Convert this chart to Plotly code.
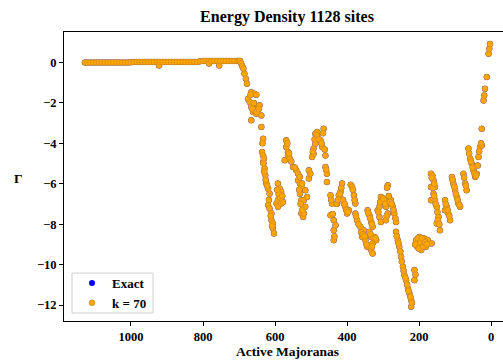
import plotly.graph_objects as go

# ---- data ----
flat_sites = [1128, 1120, 1112, 1104, 1096, 1088, 1080, 1072, 1064, 1056, 1048, 1040, 1032, 1024,
              1016, 1008, 1000, 992, 984, 976, 968, 960, 952, 944, 936, 928, 922, 920, 912, 904,
              896, 888, 880, 872, 864, 856, 848, 840, 832, 824, 816, 808, 800, 792, 784, 783,
              776, 768, 760, 755, 752, 744, 736, 728, 720, 712, 704, 700]
flat_energy = [0.0, 0.0, 0.0, 0.0, 0.0, 0.0, 0.0, 0.0, 0.0, 0.0, 0.0, 0.0, 0.0, 0.0,
               0.0, 0.0, 0.01, 0.03, 0.03, 0.03, 0.03, 0.03, 0.03, 0.03, 0.03, 0.03, -0.15, 0.03, 0.03, 0.03,
               0.03, 0.03, 0.03, 0.03, 0.03, 0.03, 0.03, 0.03, 0.03, 0.03, 0.03, 0.06, 0.08, 0.08, 0.08, -0.05,
               0.08, 0.08, 0.08, -0.15, 0.08, 0.08, 0.08, 0.08, 0.08, 0.08, 0.08, 0.08]

drop_sites = [697, 694, 691, 688, 685, 681, 678, 675, 670, 666, 666, 666, 661, 657, 657, 652, 652,
              647, 643, 638, 638, 636, 633, 633, 633, 631, 629, 627, 624, 619, 619, 615, 615, 610,
              610, 606, 606, 603, 596, 592, 592, 592, 587, 587, 583, 583, 578, 573, 569, 569, 564,
              564, 559, 550, 541, 536, 536, 531, 531, 531, 527, 527, 527, 525, 522, 522, 520, 520,
              516, 516, 511, 506, 506, 502, 497, 493, 493, 488, 488, 483, 483, 474, 469, 465, 460,
              460, 456, 456, 446, 446, 442, 437, 437, 437, 432, 428, 423, 418, 418, 414, 409, 405,
              400, 395, 390, 386, 381, 377, 377, 372, 363, 358, 354, 349, 344]
drop_energy = [0.08, -0.05, -0.18, -0.3, -0.55, -0.8, -1.05, -1.8, -1.96, -1.47, -2.2, -2.86, -2.45,
               -1.55, -2.37, -1.6, -2.53, -2.2, -2.12, -2.62, -3.19, -4.43, -3.77, -4.6, -4.92, -4.76,
               -5.25, -5.58, -5.99, -6.24, -7.06, -6.49, -7.23, -7.47, -7.8, -7.97, -8.21, -8.46, -6.98,
               -5.99, -6.81, -7.14, -6.24, -6.57, -6.4, -6.98, -6.9, -4.84, -3.85, -4.18, -4.43, -4.6,
               -4.76, -5.17, -5.33, -5.5, -5.83, -5.66, -5.99, -6.49, -6.16, -6.81, -7.47, -5.99, -7.14,
               -7.64, -6.81, -7.47, -6.32, -7.14, -6.65, -5.33, -5.74, -5.5, -4.67, -4.51, -4.26, -4.02,
               -3.52, -3.77, -3.44, -3.85, -4.18, -3.28, -4.6, -5.17, -5.5, -5.91, -6.57, -7.56, -6.98,
               -7.8, -8.3, -8.79, -8.05, -6.98, -6.57, -6.4, -6.73, -5.99, -6.98, -7.14, -7.47, -7.31,
               -6.05, -6.16, -6.57, -6.98, -7.47, -7.8, -8.13, -8.63, -8.3, -8.79, -9.12]

tail_sites = [343, 338, 338, 333, 333, 333, 329, 329, 329, 324, 319, 315, 310, 310, 306, 306, 296,
              292, 292, 287, 287, 278, 273, 269, 264, 264, 259, 255, 250, 245, 241, 236, 231, 227,
              222, 222, 213, 213, 208, 205, 199, 194, 190, 185, 181, 176, 167, 167, 167, 165, 163,
              160, 160, 156, 156, 151, 151, 146, 142, 128, 128, 123, 119, 114, 109, 105, 100, 95, 91,
              86, 77, 72, 68, 63, 58, 54, 49, 44, 40, 35, 31, 26, 26, 21, 19, 17, 12, 7, 5, 3]
tail_energy = [-7.31, -7.56, -8.38, -7.89, -8.63, -9.28, -8.13, -8.95, -9.45, -8.63, -8.79, -7.31,
               -7.14, -7.64, -6.65, -7.89, -6.81, -7.14, -7.8, -6.07, -7.47, -6.81, -7.14, -7.47, -7.89,
               -8.38, -8.79, -9.12, -9.61, -10.1, -10.52, -10.77, -11.18, -11.42, -11.75, -12.08, -10.27,
               -10.77, -8.79, -9.12, -8.63, -9.28, -8.95, -8.71, -9.12, -8.79, -5.5, -6.16, -6.81, -8.95,
               -5.6, -5.83, -6.49, -6.16, -6.81, -7.14, -7.97, -7.64, -8.3, -6.81, -7.31, -7.14, -7.47,
               -7.8, -5.66, -5.99, -6.32, -6.65, -6.98, -7.14, -5.5, -5.99, -6.32, -4.26, -4.76, -5.0,
               -5.33, -5.66, -5.5, -4.67, -4.18, -4.1, -3.28, -1.88, -1.63, -1.3, -0.72, 0.43, 0.68, 0.92]

fill_sites = [663, 659, 650, 645, 668, 635, 632, 630, 626, 622, 617, 612, 608, 590, 585, 580, 594,
              566, 561, 555, 545, 533, 529, 524, 495, 490, 485, 478, 471, 467, 462, 458, 444, 440,
              435, 430, 425, 420, 416, 411, 407, 402, 398, 384, 379, 375, 368, 361, 356, 351, 346,
              341, 336, 335, 331, 331, 326, 321, 313, 308, 302, 299, 294, 289, 290, 284, 281, 276,
              271, 266, 262, 257, 252, 248, 243, 238, 233, 229, 224, 220, 211, 210, 203, 201, 197,
              192, 188, 183, 178, 165, 162, 158, 158, 154, 149, 148, 144, 126, 121, 116, 107, 102,
              98, 93, 88, 75, 70, 61, 56, 51, 46, 42, 37, 33, 28]
fill_energy = [-2.3, -2.0, -2.45, -2.3, -1.6, -4.0, -5.0, -5.4, -5.8, -6.1, -6.8, -7.6, -8.1, -6.5,
               -6.7, -6.6, -6.3, -4.0, -4.5, -4.9, -5.2, -6.3, -7.0, -7.3, -4.4, -3.8, -3.6, -3.8,
               -4.0, -3.5, -4.3, -5.3, -6.8, -7.5, -8.6, -7.0, -6.8, -6.5, -6.2, -6.8, -7.0, -7.3,
               -7.4, -6.3, -6.8, -7.6, -8.0, -8.4, -8.5, -8.6, -9.0, -7.45, -7.7, -8.5, -8.0, -9.1,
               -8.7, -8.7, -7.4, -6.9, -6.7, -6.75, -7.0, -6.2, -7.6, -6.6, -6.9, -7.0, -7.3, -7.7,
               -8.6, -8.95, -9.35, -9.85, -10.3, -10.65, -11.0, -11.3, -11.6, -11.9, -9.0, -10.5,
               -8.7, -9.2, -8.9, -8.7, -9.1, -8.9, -9.0, -5.7, -6.2, -6.0, -6.6, -7.0, -7.4, -7.8,
               -8.0, -7.0, -7.3, -7.6, -5.8, -6.15, -6.5, -6.8, -7.05, -5.7, -6.1, -4.5, -4.9, -5.2,
               -5.5, -5.6, -5.1, -4.4, -4.0]

sites = flat_sites + drop_sites + tail_sites + fill_sites
exact_energy = flat_energy + drop_energy + tail_energy + fill_energy
approx_energy = flat_energy + drop_energy + tail_energy + fill_energy

x_ticks = [1000, 800, 600, 400, 200, 0]
y_ticks = [0, -2, -4, -6, -8, -10, -12]

FONT = "Liberation Serif"
L, T, B, W, H = 64, 31.5, 39, 503, 360
PW, PH = W - L, H - T - B


def px_x(p):
    return (p - L) / PW


def px_y(p):
    return (H - B - p) / PH


fig = go.Figure()
fig.add_trace(go.Scatter(
    x=sites, y=exact_energy, mode="markers", name="Exact",
    marker=dict(color="#0000ff", size=6),
))
fig.add_trace(go.Scatter(
    x=sites, y=approx_energy, mode="markers", name="k = 70",
    marker=dict(color="#ffa500", size=6, line=dict(color="rgba(170,120,50,0.7)", width=0.6)),
))

axis_common = dict(
    showgrid=False, zeroline=False, showline=True, linecolor="black", linewidth=1,
    mirror=True, ticks="outside", ticklen=4, tickcolor="black",
    tickfont=dict(family=FONT, size=12.5, color="black", weight="bold"),
)

fig.update_layout(
    width=W, height=H,
    margin=dict(l=L, r=0, t=T, b=B, pad=0),
    paper_bgcolor="white", plot_bgcolor="white",
    showlegend=True,
    title=dict(text="<b>Energy Density 1128 sites</b>", x=px_x(287), xref="paper",
               xanchor="center", y=1 - 16 / H, yanchor="middle",
               font=dict(family=FONT, size=16, color="black")),
    xaxis=dict(range=[1186, -33], tickvals=x_ticks, ticktext=[str(v) for v in x_ticks], **axis_common),
    yaxis=dict(range=[-12.79, 1.51], tickvals=y_ticks, **axis_common),
    legend=dict(x=px_x(72), y=px_y(313) - 5 / PH, xanchor="left", yanchor="bottom",
                bgcolor="rgba(0,0,0,0)", borderwidth=0, tracegroupgap=0,
                font=dict(family=FONT, size=13, color="black", weight="bold")),
    shapes=[dict(type="rect", xref="paper", yref="paper",
                 x0=px_x(72), x1=px_x(153), y0=px_y(313), y1=px_y(273),
                 line=dict(color="#d0d0d0", width=1), fillcolor="white", layer="above")],
    annotations=[
        dict(text="<b>Active Majoranas</b>", xref="paper", yref="paper",
             x=px_x(287), y=px_y(352), xanchor="center", yanchor="middle",
             showarrow=False, font=dict(family=FONT, size=13.5, color="black")),
        dict(text="<b>Γ</b>", xref="paper", yref="paper",
             x=px_x(18), y=px_y(178), xanchor="center", yanchor="middle",
             showarrow=False, font=dict(family=FONT, size=13.5, color="black")),
    ],
)

fig.write_html("out.html", config={"displayModeBar": False},
               post_script="document.body.style.margin='0';document.body.style.overflow='hidden';")
